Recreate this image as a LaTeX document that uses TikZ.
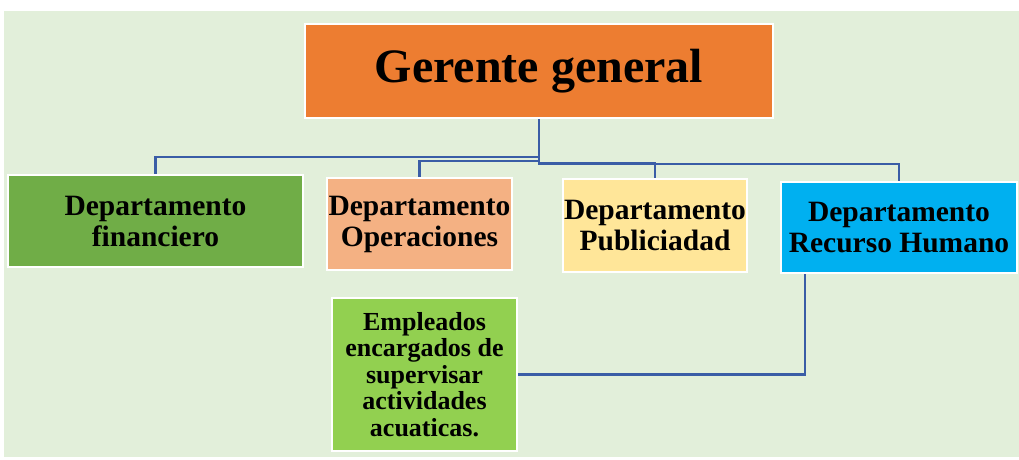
\documentclass[tikz,border=0pt]{standalone}
\usepackage{fontspec}
\setmainfont{Liberation Serif}
\usepackage{tikz}
\definecolor{fondo}{HTML}{E2EFDA}
\definecolor{naranja}{HTML}{ED7D31}
\definecolor{verde}{HTML}{70AD47}
\definecolor{salmon}{HTML}{F4B183}
\definecolor{amarillo}{HTML}{FFE699}
\definecolor{celeste}{HTML}{00B0F0}
\definecolor{lima}{HTML}{92D050}
\definecolor{linea}{HTML}{3A5DA6}
\tikzset{
	% Boxes of the chart: white frame, filled, bold serif text
	box node/.style={rectangle,draw=white,line width=2pt,align=center,inner sep=0pt,font=\bfseries\fontsize{29.5}{31}\selectfont},
	small node/.style={box node,font=\bfseries\fontsize{26}{26.5}\selectfont},
	link/.style={draw=linea,line width=2.8pt}
}

\begin{document}
\begin{tikzpicture}[x=1pt,y=-1pt]
			% Page size and background
			\useasboundingbox (0,0) rectangle (1019,459);
			\fill[fondo] (4,11) rectangle (1019,457);
			
			\node(ger)[box node,fill=naranja,minimum width=468,minimum height=94,font=\bfseries\fontsize{48}{50}\selectfont] at (539,71) {Gerente general};
			\node(fin)[box node,fill=verde,minimum width=295,minimum height=92] at (155.5,221) {Departamento\\financiero};
			\node(ope)[box node,fill=salmon,minimum width=185,minimum height=92] at (419.5,224) {Departamento\\Operaciones};
			\node(pub)[box node,fill=amarillo,minimum width=184,minimum height=93] at (655,225.5) {Departamento\\Publiciadad};
			\node(rh)[box node,fill=celeste,minimum width=236,minimum height=91] at (899,227.5) {Departamento\\Recurso Humano};
			\node(emp)[small node,fill=lima,minimum width=185,minimum height=153] at (424.5,374.5) {Empleados\\encargados de\\supervisar\\actividades\\acuaticas.};
			
			% Connectors from the manager to each department
			\draw[link] (ger.south) -- ++(0,38) -| (fin.north);
			\draw[link] (ger.south) -- ++(0,42) -| (ope.north);
			\draw[link] (ger.south) -- ++(0,44) -| (pub.north);
			\draw[link] (ger.south) -- ++(0,45) -| (rh.north);
			\draw[link] (rh.south west) ++(25,0) |- (emp.east);
		\end{tikzpicture}
\end{document}
